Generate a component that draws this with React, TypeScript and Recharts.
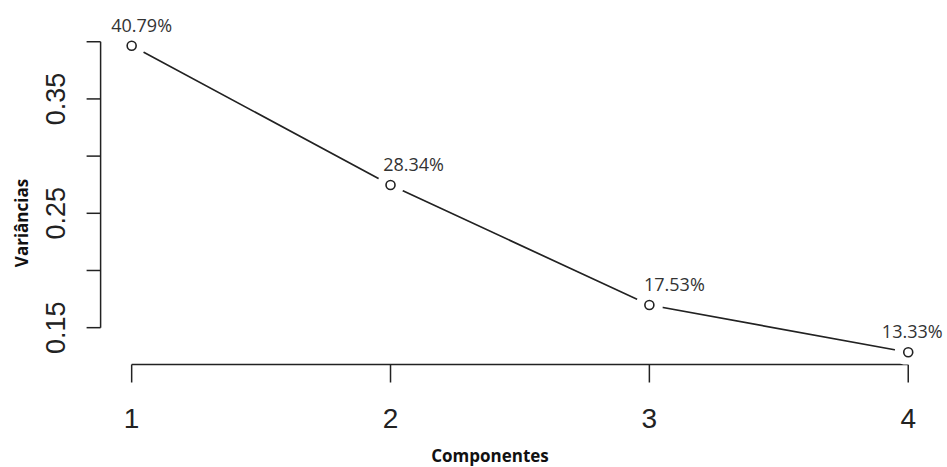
import { LineChart, Line, XAxis, YAxis, ReferenceLine, LabelList, Label } from "recharts";

// scree plot: variance per principal component
const components = [1, 2, 3, 4];
const variances = [0.3965, 0.2747, 0.1698, 0.1285];
const pctLabels = ["40.79%", "28.34%", "17.53%", "13.33%"];
const yTicks = [0.15, 0.2, 0.25, 0.3, 0.35, 0.4];
const yTickLabels = ["0.15", "", "0.25", "", "0.35", ""];

const data = components.map((c, i) => ({ comp: c, variance: variances[i], pct: pctLabels[i] }));

const X_DOMAIN: [number, number] = [0.88, 4.12];
const Y_DOMAIN: [number, number] = [0.1178, 0.4072];
const INK = "#222";
const labelShift = [10, 23, 25, 4];

const XTick = ({ x, y, payload }: any) => (
  <text x={x} y={y + 45} textAnchor="middle" fontSize={28} fill={INK} fontFamily="'Liberation Sans', Arial, sans-serif">
    {payload.value}
  </text>
);

const YTick = ({ x, y, index }: any) => {
  const txt = yTickLabels[index] ?? "";
  if (!txt) return <g />;
  const bx = x - 21.6;
  return (
    <text
      x={bx}
      y={y}
      transform={`rotate(-90, ${bx}, ${y})`}
      textAnchor="middle"
      fontSize={27}
      fill={INK}
      fontFamily="'Liberation Sans', Arial, sans-serif"
    >
      {txt}
    </text>
  );
};

// R type="b": line stops short of each point
const Dot = ({ cx, cy, index }: any) => (
  <g key={`dot-${index}`}>
    <circle cx={cx} cy={cy} r={13.5} fill="#fff" />
    <circle cx={cx} cy={cy} r={4.5} fill="#fff" stroke={INK} strokeWidth={1.6} />
  </g>
);

export default function App() {
  return (
    <div style={{ position: "absolute", left: 0, top: 0, width: 947, height: 467, background: "#fff" }}>
      <LineChart width={947} height={467} data={data} margin={{ top: 33.5, right: 7.7, bottom: 0, left: 0 }}>
        <Line
          type="linear"
          dataKey="variance"
          stroke={INK}
          strokeWidth={1.7}
          dot={<Dot />}
          activeDot={false}
          isAnimationActive={false}
        >
          <LabelList
            dataKey="pct"
            content={({ x, y, value, index }: any) => (
              <text
                x={x + labelShift[index]}
                y={y - 14}
                textAnchor="middle"
                fontSize={18}
                fill="#333"
                fontFamily="'Open Sans', sans-serif"
              >
                {value}
              </text>
            )}
          />
        </Line>
        <XAxis
          dataKey="comp"
          type="number"
          domain={X_DOMAIN}
          ticks={components}
          allowDataOverflow
          axisLine={false}
          tickLine={{ stroke: INK, strokeWidth: 1.5 }}
          tickSize={18}
          tickMargin={0}
          height={102.5}
          tick={<XTick />}
        >
          <Label
            content={() => (
              <text x={490} y={462} textAnchor="middle" fontSize={17} fontWeight="bold" fill="#111" fontFamily="'Open Sans', sans-serif">
                Componentes
              </text>
            )}
          />
        </XAxis>
        <YAxis
          type="number"
          domain={Y_DOMAIN}
          ticks={yTicks}
          allowDataOverflow
          axisLine={false}
          tickLine={{ stroke: INK, strokeWidth: 1.5 }}
          tickSize={14}
          tickMargin={0}
          width={100.6}
          tick={<YTick />}
        >
          <Label
            content={() => (
              <text
                x={28}
                y={223}
                transform="rotate(-90, 28, 223)"
                textAnchor="middle"
                fontSize={17}
                fontWeight="bold"
                fill="#111"
                fontFamily="'Open Sans', sans-serif"
              >
                Variâncias
              </text>
            )}
          />
        </YAxis>
        <ReferenceLine
          segment={[{ x: 1, y: Y_DOMAIN[0] }, { x: 4, y: Y_DOMAIN[0] }]}
          stroke={INK}
          strokeWidth={1.5}
          ifOverflow="visible"
        />
        <ReferenceLine
          segment={[{ x: X_DOMAIN[0], y: 0.15 }, { x: X_DOMAIN[0], y: 0.4 }]}
          stroke={INK}
          strokeWidth={1.5}
          ifOverflow="visible"
        />
      </LineChart>
    </div>
  );
}
